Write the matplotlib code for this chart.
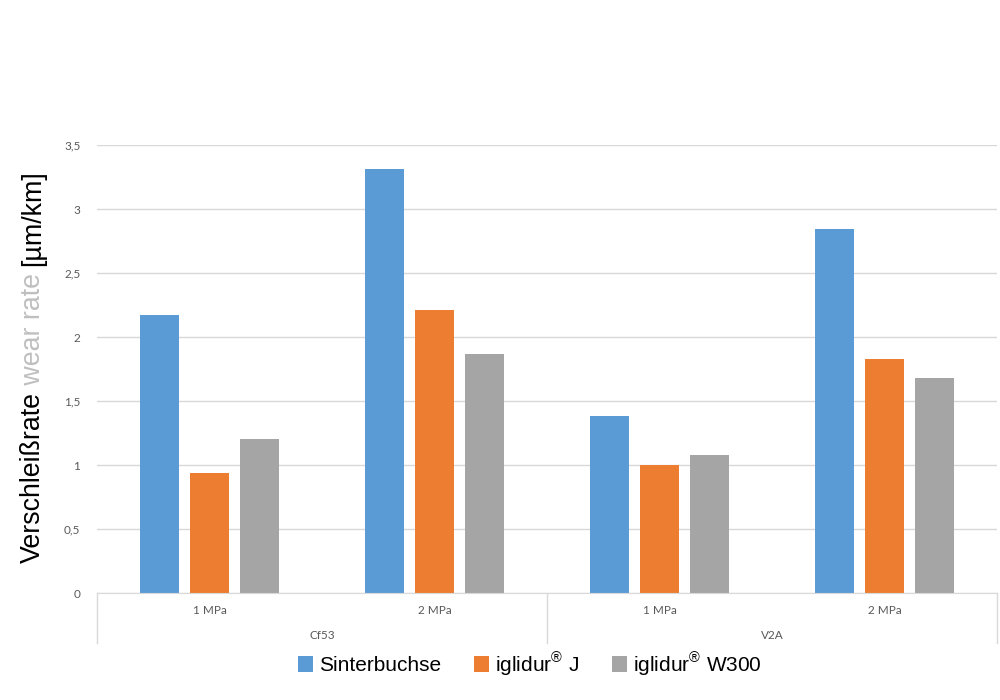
import numpy as np
import matplotlib.pyplot as plt
from matplotlib.patches import Patch
from matplotlib.lines import Line2D

plt.rcParams["mathtext.fontset"] = "custom"
plt.rcParams["mathtext.rm"] = "Liberation Sans"

# data
pressures = ["1 MPa", "2 MPa", "1 MPa", "2 MPa"]
shafts = ["Cf53", "V2A"]
series_names = ["Sinterbuchse", "iglidur$^{\u00ae}$ J", "iglidur$^{\u00ae}$ W300"]
sinterbuchse = [2.17, 3.31, 1.38, 2.84]
iglidur_j = [0.94, 2.21, 1.00, 1.83]
iglidur_w300 = [1.20, 1.87, 1.08, 1.68]
y_ticks = [0, 0.5, 1, 1.5, 2, 2.5, 3, 3.5]
y_tick_labels = ["0", "0,5", "1", "1,5", "2", "2,5", "3", "3,5"]

colors = ["#5B9BD5", "#ED7D31", "#A5A5A5"]
tick_grey = "#595959"
grid_grey = "#D9D9D9"

fig = plt.figure(figsize=(10, 7), dpi=100)
ax = fig.add_axes([0.097, 1 - 593 / 700, 0.9, (593 - 145) / 700])

x = np.arange(len(pressures))
step = 0.222
width = 0.173
for i, (vals, c) in enumerate(zip([sinterbuchse, iglidur_j, iglidur_w300], colors)):
    ax.bar(x + (i - 1) * step, vals, width, color=c, zorder=3)

ax.set_xlim(-0.5, len(pressures) - 0.5)
ax.set_ylim(0, 3.5)
ax.set_yticks(y_ticks)
ax.set_yticklabels(y_tick_labels, fontsize=8.5, color=tick_grey, family="Lato")
ax.tick_params(axis="y", length=0, pad=12)
ax.set_xticks([])
ax.grid(axis="y", color=grid_grey, linewidth=1, zorder=0)
for s in ["left", "right", "top"]:
    ax.spines[s].set_visible(False)
ax.spines["bottom"].set_color(grid_grey)
ax.spines["bottom"].set_zorder(4)

# two-level category axis
for xi, lab in zip(x, pressures):
    ax.text(xi, -0.14, lab, ha="center", va="center",
            fontsize=8.5, color=tick_grey, family="Lato", clip_on=False)
for gi, lab in enumerate(shafts):
    ax.text(gi * 2 + 0.5, -0.335, lab, ha="center", va="center",
            fontsize=8.5, color=tick_grey, family="Lato", clip_on=False)
for xs in [-0.5, 1.5, 3.5]:
    ax.add_line(Line2D([xs, xs], [0, -0.39], color=grid_grey, linewidth=1,
                       clip_on=False))

# y label in three colours
t1 = fig.text(0.033, 1 - 563 / 700, "Verschlei\u00dfrate", rotation=90,
              ha="center", va="bottom", fontsize=19.3, family="Liberation Sans",
              color="black")
t2 = ax.annotate(" wear rate ", xy=(0.5, 1), xycoords=t1, rotation=90,
                 ha="center", va="bottom", fontsize=19.3,
                 family="Liberation Sans", color="#BFBFBF")
t3 = ax.annotate("[\u00b5m/km]", xy=(0.5, 1), xycoords=t2, rotation=90,
                 ha="center", va="bottom", fontsize=19.3,
                 family="Liberation Sans", color="black")

handles = [Patch(facecolor=c, edgecolor="none") for c in colors]
fig.legend(handles, series_names, loc="center", bbox_to_anchor=(0.53, 1 - 664 / 700),
           ncol=3, frameon=False, prop={"family": "Liberation Sans", "size": 15},
           handlelength=0.7, handleheight=0.8, handletextpad=0.3,
           columnspacing=1.6)

fig.savefig("out.png", dpi=100)
